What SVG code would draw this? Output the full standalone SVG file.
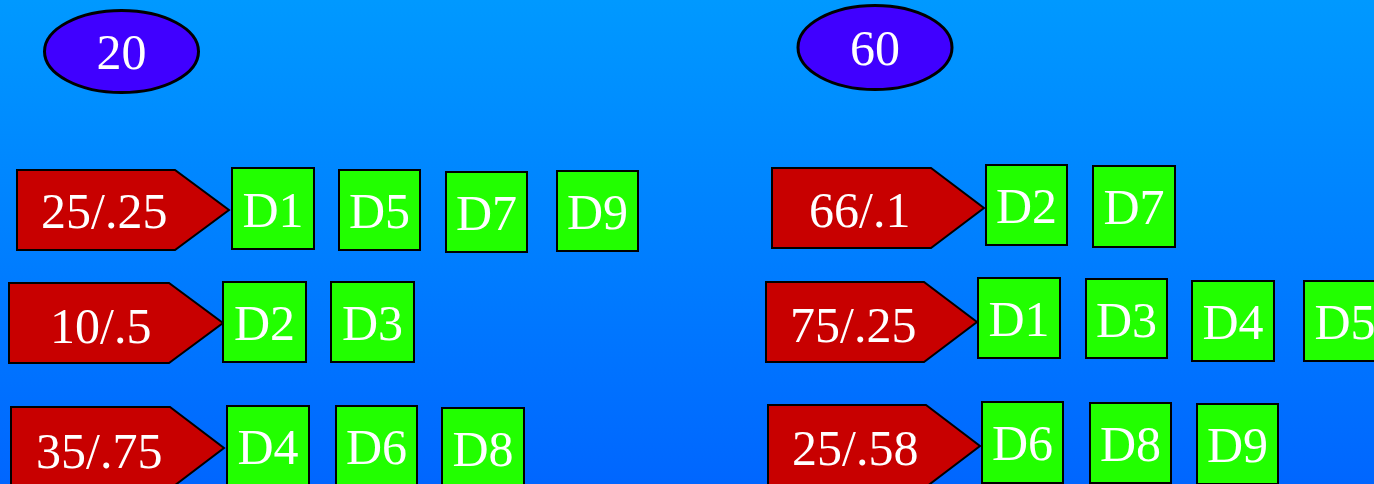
<svg xmlns="http://www.w3.org/2000/svg" width="1374" height="484" viewBox="0 0 1374 484">
<defs>
<linearGradient id="bg" x1="0" y1="0" x2="0" y2="1">
<stop offset="0" stop-color="#0099FF"/>
<stop offset="1" stop-color="#0066FF"/>
</linearGradient>
</defs>
<style>
.ell{fill:#4000FF;stroke:#000;stroke-width:3}
.arr{fill:#C80000;stroke:#000;stroke-width:2}
.box{fill:#22FF00;stroke:#000;stroke-width:2}
text{font-family:"Liberation Serif","Times New Roman",serif;font-size:50px;fill:#fff}
.c{text-anchor:middle}
</style>
<rect x="0" y="0" width="1374" height="484" fill="url(#bg)"/>
<g id="connectors"/>
<g id="n20"><ellipse class="ell" cx="121.5" cy="51.5" rx="77" ry="41"/><text class="c" x="121.5" y="69">20</text></g>
<g id="n60"><ellipse class="ell" cx="875" cy="47.5" rx="77" ry="42"/><text class="c" x="875" y="65">60</text></g>

<g id="a25_25"><polygon class="arr" points="17,170 175,170 229,210 175,250 17,250"/><text x="41" y="228">25/.25</text></g>
<g id="a10_5"><polygon class="arr" points="9,283 169,283 223,323 169,363 9,363"/><text x="50" y="343">10/.5</text></g>
<g id="a35_75"><polygon class="arr" points="11,407 170,407 224,448 170,489 11,489"/><text x="36" y="468">35/.75</text></g>
<g id="a66_1"><polygon class="arr" points="772,168 931,168 984,208 931,248 772,248"/><text x="809" y="227">66/.1</text></g>
<g id="a75_25"><polygon class="arr" points="766,282 924,282 977,322 924,362 766,362"/><text x="790" y="342">75/.25</text></g>
<g id="a25_58"><polygon class="arr" points="768,405 926,405 980,446 926,487 768,487"/><text x="792" y="465">25/.58</text></g>

<g id="L1D1"><rect class="box" x="232" y="168" width="82" height="81"/><text class="c" x="273" y="227">D1</text></g>
<g id="L1D5"><rect class="box" x="339" y="170" width="81" height="80"/><text class="c" x="379.5" y="228">D5</text></g>
<g id="L1D7"><rect class="box" x="446" y="172" width="81" height="80"/><text class="c" x="486.5" y="230">D7</text></g>
<g id="L1D9"><rect class="box" x="557" y="171" width="81" height="80"/><text class="c" x="597.5" y="229">D9</text></g>

<g id="L2D2"><rect class="box" x="223" y="282" width="83" height="80"/><text class="c" x="264.5" y="340">D2</text></g>
<g id="L2D3"><rect class="box" x="331" y="282" width="83" height="80"/><text class="c" x="372.5" y="340">D3</text></g>

<g id="L3D4"><rect class="box" x="227" y="406" width="82" height="80"/><text class="c" x="268" y="464">D4</text></g>
<g id="L3D6"><rect class="box" x="336" y="406" width="81" height="80"/><text class="c" x="376.5" y="464">D6</text></g>
<g id="L3D8"><rect class="box" x="442" y="408" width="82" height="80"/><text class="c" x="483" y="466">D8</text></g>

<g id="R1D2"><rect class="box" x="986" y="165" width="81" height="80"/><text class="c" x="1026.5" y="223">D2</text></g>
<g id="R1D7"><rect class="box" x="1093" y="166" width="82" height="81"/><text class="c" x="1134" y="224">D7</text></g>

<g id="R2D1"><rect class="box" x="978" y="278" width="82" height="80"/><text class="c" x="1019" y="336">D1</text></g>
<g id="R2D3"><rect class="box" x="1086" y="279" width="81" height="79"/><text class="c" x="1126.5" y="337">D3</text></g>
<g id="R2D4"><rect class="box" x="1192" y="281" width="82" height="80"/><text class="c" x="1233" y="339">D4</text></g>
<g id="R2D5"><rect class="box" x="1304" y="281" width="82" height="80"/><text class="c" x="1345" y="339">D5</text></g>

<g id="R3D6"><rect class="box" x="982" y="402" width="81" height="81"/><text class="c" x="1022.5" y="460">D6</text></g>
<g id="R3D8"><rect class="box" x="1090" y="403" width="81" height="80"/><text class="c" x="1130.5" y="461">D8</text></g>
<g id="R3D9"><rect class="box" x="1197" y="404" width="81" height="80"/><text class="c" x="1237.5" y="462">D9</text></g>
</svg>
